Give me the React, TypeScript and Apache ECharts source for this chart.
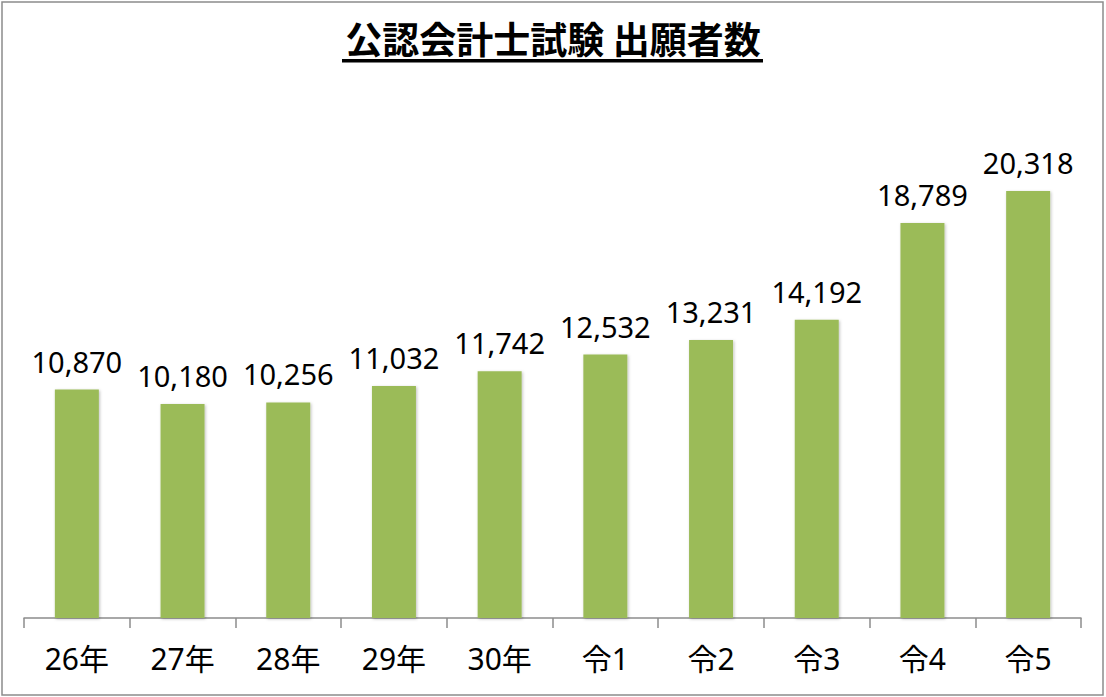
import React, { useEffect, useRef } from "react";
import * as echarts from "echarts";

const titleText = "公認会計士試験 出願者数";
const categories = ["26年", "27年", "28年", "29年", "30年", "令1", "令2", "令3", "令4", "令5"];
const applicants = [10870, 10180, 10256, 11032, 11742, 12532, 13231, 14192, 18789, 20318];

const FONT = "'Noto Sans', 'Noto Sans CJK JP', sans-serif";

export default function App() {
  const ref = useRef<HTMLDivElement>(null);
  useEffect(() => {
    if (!ref.current) return;
    const chart = echarts.init(ref.current, undefined, { renderer: "svg" });
    chart.setOption({
      animation: false,
      backgroundColor: "#ffffff",
      title: {
        text: titleText,
        left: "center",
        top: 14,
        textStyle: {
          fontFamily: "'Noto Sans CJK JP', sans-serif",
          fontSize: 37,
          fontWeight: "bold",
          color: "#000000",
        },
      },
      graphic: [
        {
          type: "rect",
          shape: { x: 2, y: 2, width: 1101, height: 693 },
          style: { fill: "none", stroke: "#8c8c8c", lineWidth: 1.5 },
          silent: true,
        },
        {
          type: "rect",
          shape: { x: 342, y: 59, width: 421, height: 3.5 },
          style: { fill: "#000000" },
          silent: true,
        },
      ],
      grid: { left: 24, right: 25, top: 92.5, bottom: 79, containLabel: false },
      xAxis: {
        type: "category",
        data: categories,
        axisLine: { show: true, lineStyle: { color: "#8c8c8c", width: 1.5 } },
        axisTick: { show: true, length: 10, lineStyle: { color: "#8c8c8c", width: 1.5 } },
        axisLabel: { color: "#000000", fontSize: 30, fontFamily: FONT, margin: 25 },
      },
      yAxis: {
        type: "value",
        min: 0,
        max: 25000,
        show: false,
        splitLine: { show: false },
      },
      series: [
        {
          type: "bar",
          data: applicants,
          barWidth: 44,
          itemStyle: {
            color: "#9bbb59",
            shadowColor: "rgba(0,0,0,0.25)",
            shadowBlur: 3,
            shadowOffsetX: 1,
            shadowOffsetY: 1,
          },
          label: {
            show: true,
            position: "top",
            distance: 14,
            color: "#000000",
            fontSize: 29,
            fontFamily: FONT,
            formatter: (p: any) => Number(p.value).toLocaleString("en-US"),
          },
        },
      ],
    });
    return () => chart.dispose();
  }, []);
  return (
    <div
      ref={ref}
      style={{ position: "absolute", left: 0, top: 0, width: 1106, height: 697 }}
    />
  );
}
